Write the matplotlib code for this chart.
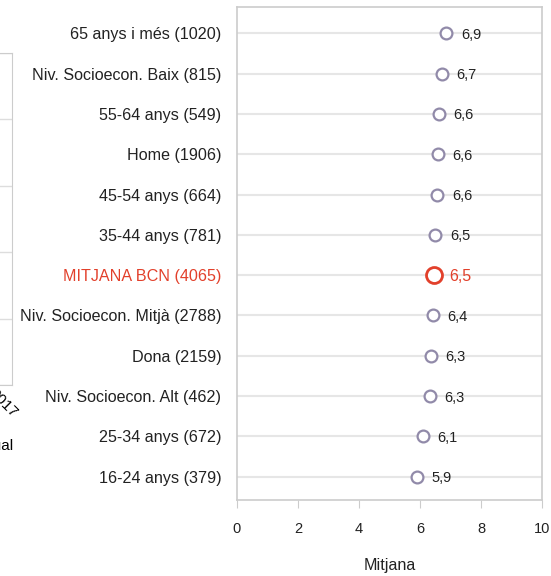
import numpy as np
from matplotlib import pyplot as plt

plt.rcParams['font.family'] = ['Liberation Sans', 'DejaVu Sans']

categories = ['65 anys i més (1020)', 'Niv. Socioecon. Baix (815)', '55-64 anys (549)',
              'Home (1906)', '45-54 anys (664)', '35-44 anys (781)', 'MITJANA BCN (4065)',
              'Niv. Socioecon. Mitjà (2788)', 'Dona (2159)', 'Niv. Socioecon. Alt (462)',
              '25-34 anys (672)', '16-24 anys (379)']
values = [6.86, 6.71, 6.61, 6.58, 6.56, 6.50, 6.47, 6.41, 6.35, 6.33, 6.09, 5.89]
value_labels = ['6,9', '6,7', '6,6', '6,6', '6,6', '6,5', '6,5', '6,4', '6,3', '6,3', '6,1', '5,9']
highlight = 'MITJANA BCN (4065)'
xticks = [0, 2, 4, 6, 8, 10]

grey = '#918aa9'
red = '#e2402b'

W, H = 551, 576
fig = plt.figure(figsize=(W / 100, H / 100), dpi=100)

# main panel
ax = fig.add_axes([236.7 / W, 1 - 500 / H, (542.3 - 236.7) / W, (500 - 7.3) / H])
y = np.arange(len(categories))
for yi, cat, v, lab in zip(y, categories, values, value_labels):
    if cat == highlight:
        ax.plot(v, yi, 'o', ms=11.5, mfc='white', mec=red, mew=2, zorder=3)
        col = red
        fs = 11.5
    else:
        ax.plot(v, yi, 'o', ms=8.5, mfc='white', mec=grey, mew=1.6, zorder=3)
        col = '#222222'
        fs = 10.5
    ax.annotate(lab, (v, yi), xytext=(10.5, 0),
                textcoords='offset points', va='center_baseline', ha='left', fontsize=fs, color=col)

ax.set_xlim(0, 10)
ax.set_ylim(11.58, -0.645)
ax.set_xticks(xticks)
ax.set_xticklabels([str(t) for t in xticks], fontsize=10.5, color='#222222')
ax.set_yticks(y)
ax.set_yticklabels(categories, fontsize=11.6)
for lab in ax.get_yticklabels():
    if lab.get_text() == highlight:
        lab.set_color(red)
    else:
        lab.set_color('#222222')
ax.tick_params(axis='y', length=0, pad=11)
ax.tick_params(axis='x', length=6, color='#cccccc', pad=10)
ax.grid(axis='y', color='#e6e6e6', lw=1.5)
ax.set_axisbelow(True)
for s in ax.spines.values():
    s.set_color('#cccccc')
    s.set_linewidth(1.2)
ax.set_xlabel('Mitjana', fontsize=11.6, color='#222222', labelpad=16)

# cropped edge of neighbouring panel
ax2 = fig.add_axes([-200 / W, 1 - 385 / H, 211.7 / W, (385 - 53) / H])
ax2.set_xlim(0, 1)
ax2.set_ylim(0, 5)
ax2.set_yticks(range(6))
ax2.set_xticks([])
ax2.tick_params(axis='y', length=0, labelleft=False)
ax2.grid(axis='y', color='#dddddd', lw=1)
for s in ax2.spines.values():
    s.set_color('#cccccc')
fig.text(3 / W, 1 - 403 / H, '2017', rotation=-45, ha='center', va='center', fontsize=11)
fig.text(14 / W, 1 - 446 / H, 'Anual', ha='right', va='center', fontsize=11)

fig.savefig('out.png', dpi=100)
